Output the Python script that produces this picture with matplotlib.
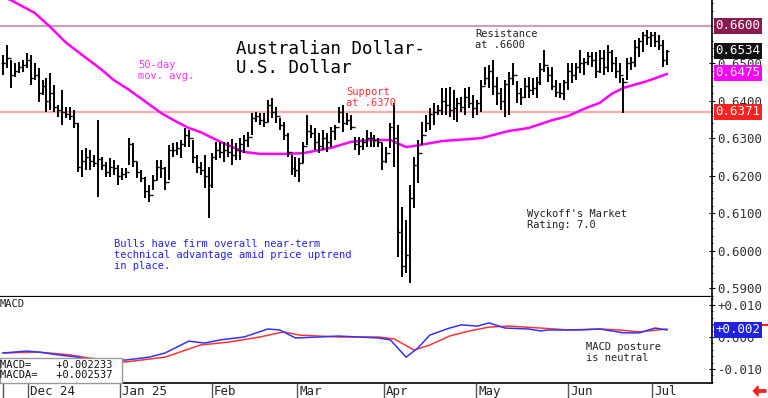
import numpy as np
import matplotlib
matplotlib.use('Agg')
import matplotlib.pyplot as plt
from matplotlib.patches import Rectangle
from matplotlib.ticker import MultipleLocator
import matplotlib.transforms as mtransforms

# daily AUD/USD bars (high, low, close), late Nov 2024 .. early Jul 2025
highs = [.6523, .6549, .6509, .6501, .6504, .6509, .6528, .6523, .6501, .6488,
         .6456, .6461, .6475, .6443, .6389, .6429, .6384, .6384, .6376, .6341,
         .6269, .6275, .6269, .6256, .6349, .6251, .6237, .6248, .6243, .6229,
         .6221, .6221, .6301, .6288, .6237, .6216, .6197, .6176, .6203, .6243,
         .6243, .6224, .6283, .6288, .6291, .6296, .6328, .6323, .6296, .6256,
         .6237, .6256, .6224, .6261, .6291, .6291, .6291, .6291, .6299, .6288,
         .6301, .6309, .6317, .6368, .6371, .6368, .6368, .6403, .6408, .6384,
         .6355, .6344, .6315, .6256, .6251, .6248, .6291, .6363, .6336, .6328,
         .6315, .6323, .6315, .6331, .6336, .6384, .6389, .6368, .6363, .6304,
         .6304, .6301, .6323, .6317, .6309, .6301, .6288, .6277, .6341, .6395,
         .6336, .6117, .6083, .6176, .6251, .6296, .6344, .6363, .6381, .6395,
         .6389, .6435, .6435, .6437, .6429, .6408, .6411, .6435, .6437, .6416,
         .6403, .6456, .6491, .6496, .6509, .6464, .6435, .6456, .6477, .6501,
         .6453, .6435, .6461, .6464, .6461, .6464, .6501, .6536, .6491, .6491,
         .6456, .6448, .6456, .6501, .6501, .6501, .6536, .6515, .6531, .6531,
         .6531, .6536, .6536, .6549, .6536, .6517, .6501, .6461, .6515, .6517,
         .6563, .6568, .6584, .6589, .6584, .6584, .6576, .6563, .6536]
lows = [.6469, .6488, .6435, .6464, .6475, .6477, .6488, .6443, .6456, .6397,
        .6416, .6371, .6376, .6371, .6357, .6336, .6355, .6349, .6328, .6211,
        .6197, .6216, .6216, .6224, .6144, .6216, .6197, .6197, .6203, .6176,
        .6189, .6195, .6229, .6224, .6195, .6184, .6141, .6131, .6163, .6189,
        .6195, .6163, .6189, .6251, .6256, .6248, .6277, .6277, .6235, .6208,
        .6203, .6168, .6088, .6168, .6243, .6248, .6237, .6251, .6229, .6243,
        .6243, .6261, .6277, .6309, .6344, .6336, .6331, .6344, .6355, .6341,
        .6323, .6296, .6251, .6203, .6197, .6184, .6235, .6283, .6301, .6269,
        .6261, .6269, .6264, .6277, .6296, .6341, .6317, .6336, .6323, .6269,
        .6256, .6269, .6277, .6277, .6277, .6277, .6216, .6235, .6275, .6224,
        .5984, .5931, .5941, .5915, .6115, .6181, .6283, .6317, .6323, .6336,
        .6363, .6363, .6363, .6357, .6349, .6344, .6371, .6363, .6381, .6355,
        .6363, .6371, .6443, .6435, .6416, .6389, .6376, .6357, .6363, .6443,
        .6395, .6389, .6408, .6408, .6416, .6408, .6443, .6477, .6451, .6429,
        .6411, .6408, .6403, .6429, .6448, .6456, .6475, .6469, .6496, .6491,
        .6461, .6475, .6469, .6477, .6477, .6461, .6448, .6368, .6456, .6483,
        .6491, .6517, .6531, .6549, .6544, .6544, .6536, .6491, .6496]
closes = [.6500, .6515, .6470, .6480, .6490, .6495, .6510, .6460, .6470, .6420,
          .6440, .6400, .6420, .6385, .6375, .6370, .6365, .6360, .6340, .6225,
          .6240, .6250, .6240, .6235, .6245, .6230, .6210, .6225, .6220, .6200,
          .6205, .6210, .6285, .6240, .6210, .6195, .6160, .6150, .6190, .6225,
          .6220, .6185, .6270, .6270, .6275, .6285, .6310, .6300, .6250, .6225,
          .6215, .6200, .6175, .6250, .6270, .6265, .6270, .6265, .6255, .6270,
          .6285, .6295, .6305, .6355, .6360, .6350, .6345, .6390, .6370, .6360,
          .6335, .6310, .6265, .6220, .6215, .6235, .6280, .6320, .6315, .6290,
          .6280, .6300, .6290, .6320, .6330, .6370, .6340, .6350, .6330, .6285,
          .6280, .6290, .6300, .6300, .6295, .6290, .6240, .6260, .6330, .6300,
          .6050, .5960, .5990, .6140, .6230, .6260, .6310, .6340, .6365, .6370,
          .6375, .6400, .6390, .6375, .6380, .6395, .6385, .6410, .6395, .6380,
          .6395, .6440, .6460, .6480, .6440, .6420, .6400, .6445, .6460, .6470,
          .6420, .6410, .6440, .6430, .6435, .6450, .6485, .6495, .6470, .6440,
          .6425, .6420, .6450, .6480, .6470, .6490, .6500, .6505, .6520, .6510,
          .6480, .6515, .6490, .6530, .6500, .6480, .6470, .6450, .6500, .6505,
          .6545, .6560, .6575, .6570, .6575, .6560, .6550, .6510, .6534]

# 50-day moving average read at selected bars
ma_idx = [0, 2, 8, 12, 16, 25, 28, 32, 40, 44, 47, 50, 55, 61, 65, 72, 76, 83,
          88, 93, 98, 102, 104, 111, 121, 128, 133, 139, 143, 147, 151, 154,
          157, 163, 168]
ma_val = [.6677, .6669, .6635, .6597, .6555, .6483, .6456, .6429, .6368, .6344,
          .6328, .6317, .6291, .6264, .6259, .6259, .6261, .6275, .6291, .6296,
          .6296, .6277, .6280, .6293, .6301, .6320, .6328, .6349, .6360, .6379,
          .6395, .6419, .6435, .6453, .6472]

# MACD (blue) and MACDA (red)
macd_idx = [0, 6, 9, 14, 19, 22, 31, 37, 41, 47, 51, 55, 61, 67, 70, 74, 80, 85,
            90, 95, 98, 102, 105, 108, 113, 116, 120, 123, 127, 133, 136, 138,
            146, 151, 157, 161, 165, 168]
macd_val = [-.0050, -.0044, -.0047, -.0056, -.0063, -.0072, -.0072, -.0063,
            -.0050, -.0013, -.0019, -.0009, .0000, .0025, .0022, -.0003, .0000,
            .0003, .0000, -.0003, -.0009, -.0063, -.0034, .0006, .0028, .0038,
            .0034, .0044, .0028, .0025, .0019, .0022, .0022, .0025, .0013,
            .0013, .0028, .0022]
sig_idx = [0, 9, 17, 22, 31, 41, 50, 57, 65, 71, 75, 85, 95, 99, 104, 108, 113,
           118, 123, 128, 136, 143, 151, 156, 161, 168]
sig_val = [-.0050, -.0047, -.0056, -.0066, -.0078, -.0063, -.0025, -.0016,
           .0000, .0016, .0006, .0000, .0000, -.0006, -.0041, -.0025, .0003,
           .0019, .0031, .0034, .0028, .0022, .0025, .0022, .0016, .0025]

months = ['', 'Dec 24', 'Jan 25', 'Feb', 'Mar', 'Apr', 'May', 'Jun', 'Jul']
month_pos = [0.0, 6.3, 29.6, 52.9, 74.4, 96.4, 119.7, 143.0, 164.2]

resistance = 0.6600
support = 0.6371
last_close = closes[-1]
last_ma = 0.6475

mono = 'DejaVu Sans Mono'
W, H = 768, 398

def fx(x):
    return x / W

def fy(y):
    return 1 - y / H

fig = plt.figure(figsize=(7.68, 3.98), dpi=100)
ax = fig.add_axes([0, fy(297), fx(712), 1 - fy(297)])
ax2 = fig.add_axes([0, fy(383), fx(712), fy(297) - fy(383)])
ax3 = fig.add_axes([0, 0, fx(712), fy(383)])

idx = np.arange(len(closes))
opens = np.r_[closes[0], closes[:-1]]
xlim = (-0.76, 179.4)

# price panel
ax.axhline(resistance, color='#c8a0b8', lw=1.6, zorder=1)
ax.axhline(support, color='#ffaaaa', lw=1.6, zorder=1)
ax.plot(ma_idx, ma_val, color='#ff00ff', lw=1.8, zorder=2)
ax.vlines(idx, lows, highs, color='black', lw=1.4, zorder=3)
ax.hlines(closes, idx, idx + 0.5, color='black', lw=1.0, zorder=3)
ax.hlines(opens, idx - 0.5, idx, color='black', lw=1.0, zorder=3)
ax.set_xlim(*xlim)
ax.set_ylim(0.58773, 0.66693)
ax.set_xticks([])
ax.yaxis.tick_right()
ax.set_yticks(np.arange(0.59, 0.6501, 0.01))
ax.set_yticklabels([f'{v:.4f}' for v in np.arange(0.59, 0.6501, 0.01)],
                   fontfamily=mono, fontsize=9, color='#333333')
ax.yaxis.set_minor_locator(MultipleLocator(0.002))
ax.tick_params(axis='y', which='major', direction='inout', length=4, pad=2)
ax.tick_params(axis='y', which='minor', direction='inout', length=2)
for s in ['top', 'left']:
    ax.spines[s].set_visible(False)
ax.spines['right'].set_linewidth(1.2)
ax.spines['bottom'].set_linewidth(1.6)

trans = mtransforms.blended_transform_factory(ax.transAxes, ax.transData)
for val, bg in [(resistance, '#8b1a4e'), (last_close, '#111111'),
                (last_ma, '#ff00ff'), (support, '#ff2020')]:
    ax.text(1.005, val, f'{val:.4f}', transform=trans, fontfamily=mono,
            fontsize=9, color='white', va='center', ha='left', clip_on=False,
            bbox=dict(boxstyle='square,pad=0.12', fc=bg, ec='none'), zorder=5)

# MACD panel
ax2.plot(sig_idx, sig_val, color='#ff3333', lw=1.1)
ax2.plot(macd_idx, macd_val, color='#3333ff', lw=1.1)
ax2.set_xlim(*xlim)
ax2.set_ylim(-0.014375, 0.0125)
ax2.set_xticks([])
ax2.yaxis.tick_right()
ax2.set_yticks([0.01, 0.0, -0.01])
ax2.set_yticklabels(['+0.010', '0.000', '-0.010'], fontfamily=mono,
                    fontsize=9, color='#333333')
ax2.yaxis.set_minor_locator(MultipleLocator(0.002))
ax2.tick_params(axis='y', which='major', direction='inout', length=4, pad=2)
ax2.tick_params(axis='y', which='minor', direction='inout', length=2)
for s in ['top', 'left']:
    ax2.spines[s].set_visible(False)
ax2.spines['right'].set_linewidth(1.2)
ax2.spines['bottom'].set_linewidth(1.2)
trans2 = mtransforms.blended_transform_factory(ax2.transAxes, ax2.transData)
# MACDA marker peeking above the MACD value box
ax2.plot([1.003, 1.08], [sig_val[-1] + 0.0012] * 2, transform=trans2,
         color='#ff2020', lw=1.5, clip_on=False, zorder=4)
ax2.text(1.005, macd_val[-1], '+0.002', transform=trans2, fontfamily=mono,
         fontsize=9, color='white', va='center', ha='left', clip_on=False,
         bbox=dict(boxstyle='square,pad=0.12', fc='#2020e0', ec='none'), zorder=6)

# date strip
ax3.set_xlim(*xlim)
ax3.set_ylim(0, 1)
ax3.axis('off')
ax3.vlines(month_pos, 0, 1, color='#555555', lw=1.0)
for p, m in zip(month_pos, months):
    ax3.text(p + 0.5, 0.45, m, fontfamily=mono, fontsize=9, va='center',
             ha='left', color='#222222')

# annotations
fig.text(fx(236), fy(40), 'Australian Dollar-\nU.S. Dollar', fontfamily=mono,
         fontsize=12.5, va='top', ha='left', color='black', linespacing=1.05)
fig.text(fx(138), fy(60), '50-day\nmov. avg.', fontfamily=mono, fontsize=7.5,
         va='top', color='#ff33ff', linespacing=1.1)
fig.text(fx(346), fy(87), 'Support\nat .6370', fontfamily=mono, fontsize=7.5,
         va='top', color='#ff3030', linespacing=1.1)
fig.text(fx(475), fy(29), 'Resistance\nat .6600', fontfamily=mono, fontsize=7.5,
         va='top', color='#222222', linespacing=1.1)
fig.text(fx(527), fy(209), "Wyckoff's Market\nRating: 7.0", fontfamily=mono,
         fontsize=7.5, va='top', color='#222222', linespacing=1.1)
fig.text(fx(114), fy(239), 'Bulls have firm overall near-term\n'
         'technical advantage amid price uptrend\nin place.', fontfamily=mono,
         fontsize=7.5, va='top', color='#2222ee', linespacing=1.1)
fig.text(fx(586), fy(342), 'MACD posture\nis neutral', fontfamily=mono,
         fontsize=7.5, va='top', color='#222222', linespacing=1.1)
fig.text(fx(0), fy(299), 'MACD', fontfamily=mono, fontsize=7.5, va='top',
         color='#222222')

fig.patches.append(Rectangle((fx(0), fy(383)), fx(122), fy(358) - fy(383),
                             transform=fig.transFigure, fc='white',
                             ec='#999999', lw=1.0, zorder=8))
fig.text(fx(0), fy(360), 'MACD=    +0.002233\nMACDA=   +0.002537',
         fontfamily=mono, fontsize=7.5, va='top', color='#111111',
         linespacing=1.05, zorder=9)

fig.patches.append(matplotlib.patches.FancyArrow(
    fx(766), fy(391), fx(758) - fx(766), 0, width=0.006, head_width=0.025,
    head_length=0.006, transform=fig.transFigure, color='#ff2020'))

fig.savefig('out.png', dpi=100)
